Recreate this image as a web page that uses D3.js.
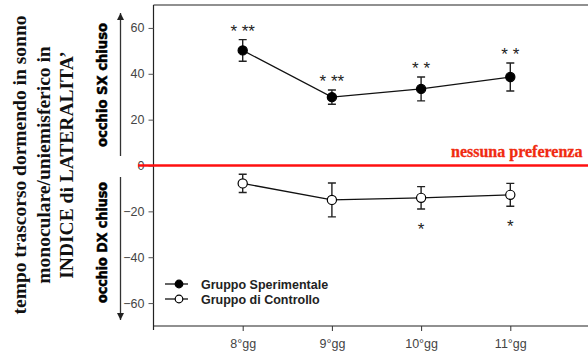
<!DOCTYPE html>
<html><head><meta charset="utf-8">
<script src="https://cdn.jsdelivr.net/npm/d3@7"></script>
<style>html,body{margin:0;padding:0;background:#fff;overflow:hidden}svg{display:block}</style>
</head><body>
<svg id="c" width="588" height="353"></svg>
<script>
const days = ["8°gg", "9°gg", "10°gg", "11°gg"];
const dayNum = [8, 9, 10, 11];
const sperimentale = [50.2, 29.8, 33.4, 38.6];
const sperErr = [4.7, 3.1, 5.2, 6.1];
const controllo = [-7.8, -15.0, -14.1, -12.8];
const contrErr = [4.0, 7.4, 4.9, 5.0];
const sigSper = ["* **", "* **", "* *", "* *"];
const sigContr = ["", "", "*", "*"];
const yTicks = [-60, -40, -20, 0, 20, 40, 60];
const titleLines = ["tempo trascorso dormendo in sonno", "monoculare/uniemisferico in", "INDICE di LATERALITA’"];
const seriesNames = ["Gruppo Sperimentale", "Gruppo di Controllo"];

const svg = d3.select("#c");
const x = d3.scaleLinear().domain([7, 12]).range([153.5, 599.5]);
const y = d3.scaleLinear().domain([-70, 70]).range([326, 5]);
const sans = "Liberation Sans, Arial, sans-serif";

// frame top line
svg.append("line").attr("x1", x(7)).attr("x2", 588).attr("y1", y(70)).attr("y2", y(70))
  .attr("stroke", "#222").attr("stroke-width", 1.2);

// y axis
const ya = svg.append("g").attr("transform", `translate(${x(7)},0)`)
  .call(d3.axisLeft(y).tickValues(yTicks).tickSize(5).tickPadding(4).tickFormat(d3.format("d")));
ya.select(".domain").attr("stroke", "#222").attr("stroke-width", 1.2).attr("d", `M0,${y(70)}V${y(-70) + 4}`);
ya.selectAll(".tick line").attr("stroke", "#555");
ya.selectAll("text").attr("font-family", sans).attr("font-size", 12.5).attr("fill", "#444");

// x axis
const xa = svg.append("g").attr("transform", `translate(0,${y(-70)})`)
  .call(d3.axisBottom(x).tickValues(dayNum).tickSize(5).tickPadding(8).tickFormat((d, i) => days[i]));
xa.select(".domain").attr("stroke", "#222").attr("stroke-width", 1.2).attr("d", `M${x(7)},0H588`);
xa.selectAll(".tick line").attr("stroke", "#333");
xa.selectAll("text").attr("font-family", sans).attr("font-size", 12.5).attr("fill", "#444");

// red zero line
svg.append("line").attr("x1", 138).attr("x2", 588).attr("y1", y(0)).attr("y2", y(0))
  .attr("stroke", "#ff1010").attr("stroke-width", 2.6);
svg.append("text").attr("x", 451).attr("y", y(0) - 8.5)
  .attr("font-family", "Liberation Serif, Times New Roman, serif").attr("font-weight", "bold")
  .attr("font-size", 16).attr("fill", "#f02a10").attr("stroke", "#f02a10").attr("stroke-width", 0.3)
  .text("nessuna preferenza");

// series
function drawSeries(vals, errs, filled) {
  const g = svg.append("g");
  g.append("path").datum(vals)
    .attr("d", d3.line().x((d, i) => x(dayNum[i])).y(d => y(d)))
    .attr("fill", "none").attr("stroke", "#111").attr("stroke-width", 1.3);
  vals.forEach((v, i) => {
    const cx = x(dayNum[i]);
    const t = y(v + errs[i]), b = y(v - errs[i]);
    g.append("path").attr("d", `M${cx},${t}V${b}M${cx - 4},${t}H${cx + 4}M${cx - 4},${b}H${cx + 4}`)
      .attr("stroke", "#222").attr("stroke-width", 1.4).attr("fill", "none");
  });
  g.selectAll("circle").data(vals).join("circle")
    .attr("cx", (d, i) => x(dayNum[i])).attr("cy", d => y(d)).attr("r", 4.6)
    .attr("fill", filled ? "#000" : "#fff").attr("stroke", "#000").attr("stroke-width", 1.2);
}
drawSeries(sperimentale, sperErr, true);
drawSeries(controllo, contrErr, false);

// significance stars
sigSper.forEach((s, i) => {
  svg.append("text").attr("x", x(dayNum[i])).attr("y", y(sperimentale[i] + sperErr[i] + 5.5) + 10)
    .attr("text-anchor", "middle").attr("font-family", sans).attr("font-size", 17).attr("fill", "#222")
    .style("white-space", "pre").text(s);
});
sigContr.forEach((s, i) => {
  if (!s) return;
  svg.append("text").attr("x", x(dayNum[i])).attr("y", y(controllo[i] - contrErr[i] - 7) + 10)
    .attr("text-anchor", "middle").attr("font-family", sans).attr("font-size", 17).attr("fill", "#222")
    .text(s);
});

// legend
const lg = svg.append("g");
seriesNames.forEach((n, i) => {
  const ly = 284 + i * 15;
  lg.append("line").attr("x1", 165).attr("x2", 188).attr("y1", ly).attr("y2", ly).attr("stroke", "#111").attr("stroke-width", 1.3);
  lg.append("circle").attr("cx", 179).attr("cy", ly).attr("r", 3.8)
    .attr("fill", i === 0 ? "#000" : "#fff").attr("stroke", "#000").attr("stroke-width", 1.2);
  lg.append("text").attr("x", 201).attr("y", ly + 4.5).attr("font-family", sans)
    .attr("font-weight", "bold").attr("font-size", 12.5).attr("fill", "#222").text(n);
});

// arrows
const defs = svg.append("defs");
defs.append("marker").attr("id", "ah").attr("viewBox", "0 0 10 10").attr("refX", 10).attr("refY", 5)
  .attr("markerWidth", 7).attr("markerHeight", 8).attr("markerUnits", "userSpaceOnUse").attr("orient", "auto")
  .append("path").attr("d", "M0,0L10,5L0,10Z").attr("fill", "#222");
svg.append("line").attr("x1", 120.5).attr("x2", 120.5).attr("y1", 156).attr("y2", 13)
  .attr("stroke", "#333").attr("stroke-width", 1.3).attr("marker-end", "url(#ah)");
svg.append("line").attr("x1", 120.5).attr("x2", 120.5).attr("y1", 177).attr("y2", 320)
  .attr("stroke", "#333").attr("stroke-width", 1.3).attr("marker-end", "url(#ah)");

// side labels
const narrow = "Liberation Sans Narrow, DejaVu Sans Condensed, Arial Narrow, sans-serif";
[["occhio SX chiuso", 85, 124], ["occhio DX chiuso", 242.5, 121]].forEach(([t, cy, len]) => {
  svg.append("text").attr("transform", `translate(106.5,${cy}) rotate(-90)`)
    .attr("text-anchor", "middle").attr("font-family", narrow).attr("font-weight", "bold")
    .attr("font-size", 14.5).attr("fill", "#000").attr("stroke", "#000").attr("stroke-width", 0.5)
    .attr("textLength", len).attr("lengthAdjust", "spacingAndGlyphs").text(t);
});

// title
const titleX = [26, 50, 73];
titleLines.forEach((t, i) => {
  svg.append("text").attr("transform", `translate(${titleX[i]},165) rotate(-90)`)
    .attr("text-anchor", "middle").attr("font-family", "Liberation Serif, Times New Roman, serif")
    .attr("font-weight", "bold").attr("font-size", 19.5).attr("fill", "#111").text(t);
});
</script>
</body></html>
